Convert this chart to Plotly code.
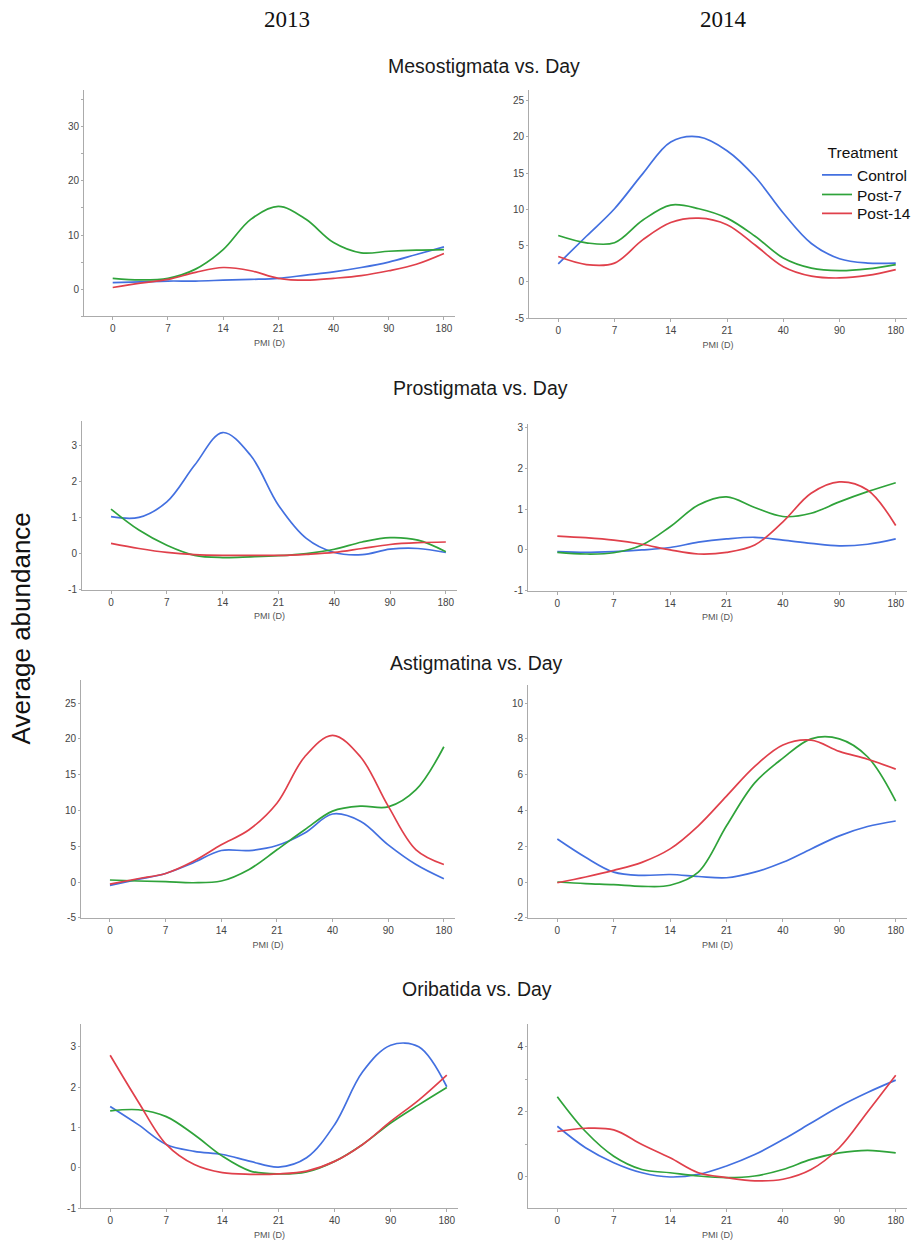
import plotly.graph_objects as go

# ---------------- data ----------------
pmi_labels = ["0", "7", "14", "21", "40", "90", "180"]
pmi_ticks = [0, 1, 2, 3, 4, 5, 6]
# sample positions along the categorical PMI axis (category index, half steps)
sample_pos = [0, 0.5, 1, 1.5, 2, 2.5, 3, 3.5, 4, 4.5, 5, 5.5, 6]

treatments = ["Control", "Post-7", "Post-14"]
colors = {"Control": "#4370e0", "Post-7": "#2fa33a", "Post-14": "#e0404b"}

# Mesostigmata
meso_2013_control = [1.2, 1.35, 1.5, 1.5, 1.65, 1.8, 2.0, 2.6, 3.2, 4.0, 5.0, 6.4, 7.8]
meso_2013_post7 = [2.0, 1.7, 2.0, 3.7, 7.3, 12.9, 15.3, 12.9, 8.6, 6.7, 7.0, 7.2, 7.3]
meso_2013_post14 = [0.3, 1.1, 1.8, 3.1, 4.0, 3.4, 2.0, 1.65, 2.0, 2.5, 3.4, 4.6, 6.6]
meso_2014_control = [2.5, 6.3, 10.1, 14.9, 19.3, 20.0, 18.1, 14.5, 9.5, 5.3, 3.2, 2.6, 2.6]
meso_2014_post7 = [6.4, 5.4, 5.4, 8.5, 10.6, 10.1, 8.8, 6.3, 3.3, 1.9, 1.55, 1.8, 2.4]
meso_2014_post14 = [3.5, 2.4, 2.6, 5.8, 8.2, 8.8, 7.9, 5.1, 2.1, 0.8, 0.55, 0.9, 1.7]

# Prostigmata
pros_2013_control = [1.02, 1.0, 1.43, 2.45, 3.35, 2.72, 1.34, 0.42, 0.03, -0.03, 0.12, 0.14, 0.03]
pros_2013_post7 = [1.23, 0.65, 0.23, -0.05, -0.11, -0.09, -0.06, 0.0, 0.12, 0.32, 0.44, 0.37, 0.05]
pros_2013_post14 = [0.28, 0.14, 0.03, -0.03, -0.05, -0.05, -0.05, -0.02, 0.03, 0.14, 0.25, 0.3, 0.32]
pros_2014_control = [-0.04, -0.06, -0.04, 0.0, 0.06, 0.19, 0.27, 0.31, 0.24, 0.16, 0.1, 0.14, 0.27]
pros_2014_post7 = [-0.06, -0.1, -0.07, 0.12, 0.57, 1.1, 1.3, 1.04, 0.82, 0.9, 1.18, 1.43, 1.65]
pros_2014_post14 = [0.34, 0.3, 0.24, 0.14, 0.0, -0.1, -0.06, 0.12, 0.69, 1.39, 1.67, 1.47, 0.6]

# Astigmatina
asti_2013_control = [-0.46, 0.37, 1.2, 2.7, 4.4, 4.4, 5.1, 6.85, 9.5, 8.5, 5.2, 2.45, 0.46]
asti_2013_post7 = [0.28, 0.14, 0.05, -0.1, 0.14, 1.76, 4.5, 7.3, 9.9, 10.6, 10.5, 12.9, 18.9]
asti_2013_post14 = [-0.3, 0.46, 1.2, 2.9, 5.2, 7.3, 11.0, 17.5, 20.5, 17.5, 10.6, 4.5, 2.45]
asti_2014_control = [2.4, 1.38, 0.55, 0.37, 0.42, 0.31, 0.24, 0.55, 1.1, 1.85, 2.58, 3.1, 3.41]
asti_2014_post7 = [0.0, -0.09, -0.15, -0.24, -0.18, 0.55, 3.14, 5.54, 6.92, 8.0, 8.0, 7.0, 4.52]
asti_2014_post14 = [-0.04, 0.28, 0.65, 1.1, 1.85, 3.14, 4.8, 6.46, 7.66, 7.93, 7.3, 6.86, 6.31]

# Oribatida
orib_2013_control = [1.52, 1.07, 0.58, 0.41, 0.33, 0.16, 0.02, 0.25, 1.07, 2.38, 3.04, 3.0, 2.01]
orib_2013_post7 = [1.41, 1.44, 1.27, 0.82, 0.29, -0.08, -0.15, -0.1, 0.16, 0.58, 1.11, 1.56, 1.99]
orib_2013_post14 = [2.79, 1.64, 0.58, 0.08, -0.12, -0.16, -0.15, -0.08, 0.16, 0.58, 1.15, 1.68, 2.3]
orib_2014_control = [1.56, 0.9, 0.44, 0.13, 0.0, 0.08, 0.34, 0.69, 1.15, 1.66, 2.17, 2.6, 2.98]
orib_2014_post7 = [2.47, 1.4, 0.64, 0.23, 0.13, 0.03, -0.02, 0.03, 0.23, 0.54, 0.74, 0.82, 0.74]
orib_2014_post14 = [1.4, 1.5, 1.45, 1.0, 0.59, 0.13, -0.02, -0.12, -0.07, 0.23, 0.9, 2.0, 3.13]

panels = [
    (0, 0, [meso_2013_control, meso_2013_post7, meso_2013_post14]),
    (0, 1, [meso_2014_control, meso_2014_post7, meso_2014_post14]),
    (1, 0, [pros_2013_control, pros_2013_post7, pros_2013_post14]),
    (1, 1, [pros_2014_control, pros_2014_post7, pros_2014_post14]),
    (2, 0, [asti_2013_control, asti_2013_post7, asti_2013_post14]),
    (2, 1, [asti_2014_control, asti_2014_post7, asti_2014_post14]),
    (3, 0, [orib_2013_control, orib_2013_post7, orib_2013_post14]),
    (3, 1, [orib_2014_control, orib_2014_post7, orib_2014_post14]),
]

row_titles = ["Mesostigmata vs. Day", "Prostigmata vs. Day",
              "Astigmatina vs. Day", "Oribatida vs. Day"]
years = ["2013", "2014"]

# ---------------- layout (page-pixel boxes) ----------------
FW, FH = 916, 1246


def fx(px):
    return px / FW


def fy(py):
    return 1 - py / FH


boxes = {
    (0, 0): (84, 455, 90, 317),
    (0, 1): (529, 907, 90, 319),
    (1, 0): (82, 457, 422, 592),
    (1, 1): (528, 907, 425, 593),
    (2, 0): (81, 455, 683, 922),
    (2, 1): (528, 907, 688, 922),
    (3, 0): (81, 458, 1029, 1214),
    (3, 1): (528, 907, 1029, 1214),
}
yaxes_cfg = {
    (0, 0): dict(range=[-5, 36.7], tickvals=[0, 10, 20, 30], minor=dict(dtick=5, tick0=5)),
    (0, 1): dict(range=[-5, 26.4], tickvals=[-5, 0, 5, 10, 15, 20, 25]),
    (1, 0): dict(range=[-1, 3.68], tickvals=[-1, 0, 1, 2, 3]),
    (1, 1): dict(range=[-1, 3.1], tickvals=[-1, 0, 1, 2, 3]),
    (2, 0): dict(range=[-5, 28.2], tickvals=[-5, 0, 5, 10, 15, 20, 25]),
    (2, 1): dict(range=[-2, 11.0], tickvals=[-2, 0, 2, 4, 6, 8, 10]),
    (3, 0): dict(range=[-1, 3.56], tickvals=[-1, 0, 1, 2, 3]),
    (3, 1): dict(range=[-0.96, 4.7], tickvals=[0, 2, 4], minor=dict(dtick=1, tick0=1)),
}
title_pos = [(484, 65), (480, 389), (477, 666), (477, 994)]
year_pos = [(287, 19), (723, 19)]

sans = "Liberation Sans, Arial, sans-serif"
tick_font = dict(family=sans, size=10, color="#444444")
axis_color = "#ababab"

fig = go.Figure()
layout = {}
legend_ids = {"Control": "legend", "Post-7": "legend2", "Post-14": "legend3"}
for i, (r, c, series) in enumerate(panels):
    n = i + 1
    xa = "x" if n == 1 else f"x{n}"
    ya = "y" if n == 1 else f"y{n}"
    for name, vals in zip(treatments, series):
        fig.add_trace(go.Scatter(
            x=sample_pos, y=vals, mode="lines", name=name,
            line=dict(color=colors[name], width=1.7, shape="spline", smoothing=1.0),
            xaxis=xa, yaxis=ya, showlegend=(n == 2), legend=legend_ids[name],
            hoverinfo="skip"))
    x0, x1, y0, y1 = boxes[(r, c)]
    xkey = "xaxis" if n == 1 else f"xaxis{n}"
    ykey = "yaxis" if n == 1 else f"yaxis{n}"
    layout[xkey] = dict(
        domain=[fx(x0), fx(x1)], anchor=ya, range=[-0.52, 6.2],
        tickvals=pmi_ticks, ticktext=pmi_labels,
        showgrid=False, zeroline=False, showline=True, linecolor=axis_color, linewidth=1,
        ticks="outside", ticklen=3, tickcolor=axis_color, tickfont=tick_font,
        title=dict(text="PMI (D)", font=dict(family=sans, size=9, color="#555555"), standoff=6),
    )
    ycfg = yaxes_cfg[(r, c)]
    yd = dict(
        domain=[fy(y1), fy(y0)], anchor=xa, range=ycfg["range"],
        tickvals=ycfg["tickvals"], ticktext=[str(v) for v in ycfg["tickvals"]],
        showgrid=False, zeroline=False, showline=True, linecolor=axis_color, linewidth=1,
        ticks="outside", ticklen=2, tickcolor=axis_color, tickfont=tick_font,
    )
    if "minor" in ycfg:
        yd["minor"] = dict(dtick=ycfg["minor"]["dtick"], tick0=ycfg["minor"]["tick0"],
                           ticks="outside", ticklen=2, tickcolor=axis_color, showgrid=False)
    layout[ykey] = yd

annotations = []
for (px, py), t in zip(title_pos, row_titles):
    annotations.append(dict(text=t, x=fx(px), y=fy(py), xref="paper", yref="paper",
                            showarrow=False, xanchor="center", yanchor="middle",
                            font=dict(family=sans, size=19.5, color="#1a1a1a")))
for (px, py), t in zip(year_pos, years):
    annotations.append(dict(text=t, x=fx(px), y=fy(py), xref="paper", yref="paper",
                            showarrow=False, xanchor="center", yanchor="middle",
                            font=dict(family="Liberation Serif, Times New Roman, serif",
                                      size=23, color="#111111")))
annotations.append(dict(text="Average abundance", x=fx(21), y=fy(631),
                        xref="paper", yref="paper", showarrow=False, textangle=-90,
                        xanchor="center", yanchor="middle",
                        font=dict(family=sans, size=26, color="#111111")))

leg_font = dict(family=sans, size=15.5, color="#111111")
leg_common = dict(font=leg_font, bgcolor="rgba(0,0,0,0)", itemwidth=30,
                  xanchor="left", x=fx(817))

fig.update_layout(
    width=FW, height=FH, margin=dict(l=0, r=0, t=0, b=0),
    paper_bgcolor="white", plot_bgcolor="white",
    showlegend=True,
    legend=dict(title=dict(text="\u00a0\u00a0Treatment", font=leg_font),
                y=fy(138), yanchor="top", **leg_common),
    legend2=dict(y=fy(195), yanchor="middle", **leg_common),
    legend3=dict(y=fy(214), yanchor="middle", **leg_common),
    annotations=annotations,
    **layout,
)

fig.write_html("out.html",
               config={"displayModeBar": False, "staticPlot": True},
               post_script="document.body.style.margin='0';document.body.style.overflow='hidden';")
